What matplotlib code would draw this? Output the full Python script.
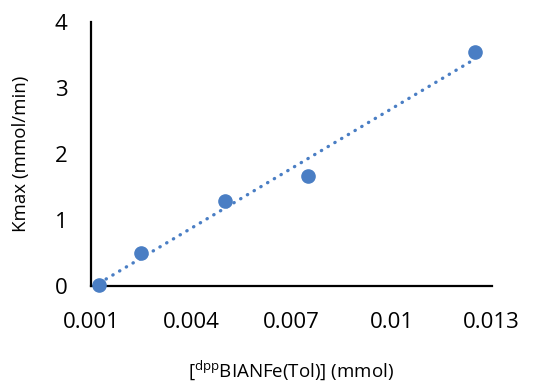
import numpy as np
import matplotlib
matplotlib.use("Agg")
import matplotlib.pyplot as plt

plt.rcParams['font.family'] = ['Open Sans', 'DejaVu Sans']
plt.rcParams['mathtext.default'] = 'regular'

# Data
conc = [0.00125, 0.0025, 0.005, 0.0075, 0.0125]
kmax = [0.02, 0.5, 1.29, 1.67, 3.54]
x_ticks = [0.001, 0.004, 0.007, 0.01, 0.013]
x_ticklabels = ['0.001', '0.004', '0.007', '0.01', '0.013']
y_ticks = [0, 1, 2, 3, 4]

color = '#4a7ec4'

fig = plt.figure(figsize=(5.55, 3.83), dpi=100)
ax = fig.add_axes([0.164, 0.253, 0.722, 0.6896])

# linear trendline
coef = np.polyfit(conc, kmax, 1)
xt = np.array([min(conc), max(conc)])
ax.plot(xt, np.polyval(coef, xt), color=color, lw=2.4,
        linestyle=(0, (0.1, 2.25)), dash_capstyle='round', zorder=2)
ax.plot(conc, kmax, 'o', color=color, markersize=9.5, zorder=3, clip_on=False)

ax.set_xlim(0.001, 0.013)
ax.set_ylim(0, 4)
ax.set_xticks(x_ticks)
ax.set_xticklabels(x_ticklabels)
ax.set_yticks(y_ticks)
ax.tick_params(axis='both', length=0, labelsize=16)
ax.tick_params(axis='x', pad=19)
ax.tick_params(axis='y', pad=17)

for s in ['top', 'right']:
    ax.spines[s].set_visible(False)
for s in ['left', 'bottom']:
    ax.spines[s].set_linewidth(1.6)
    ax.spines[s].set_color('black')

ax.set_xlabel(r'[$^{dpp}$BIANFe(Tol)] (mmol)', fontsize=13.5, labelpad=18)
ax.set_ylabel('Kmax (mmol/min)', fontsize=13.5, labelpad=18)

fig.savefig('out.png', dpi=100)
